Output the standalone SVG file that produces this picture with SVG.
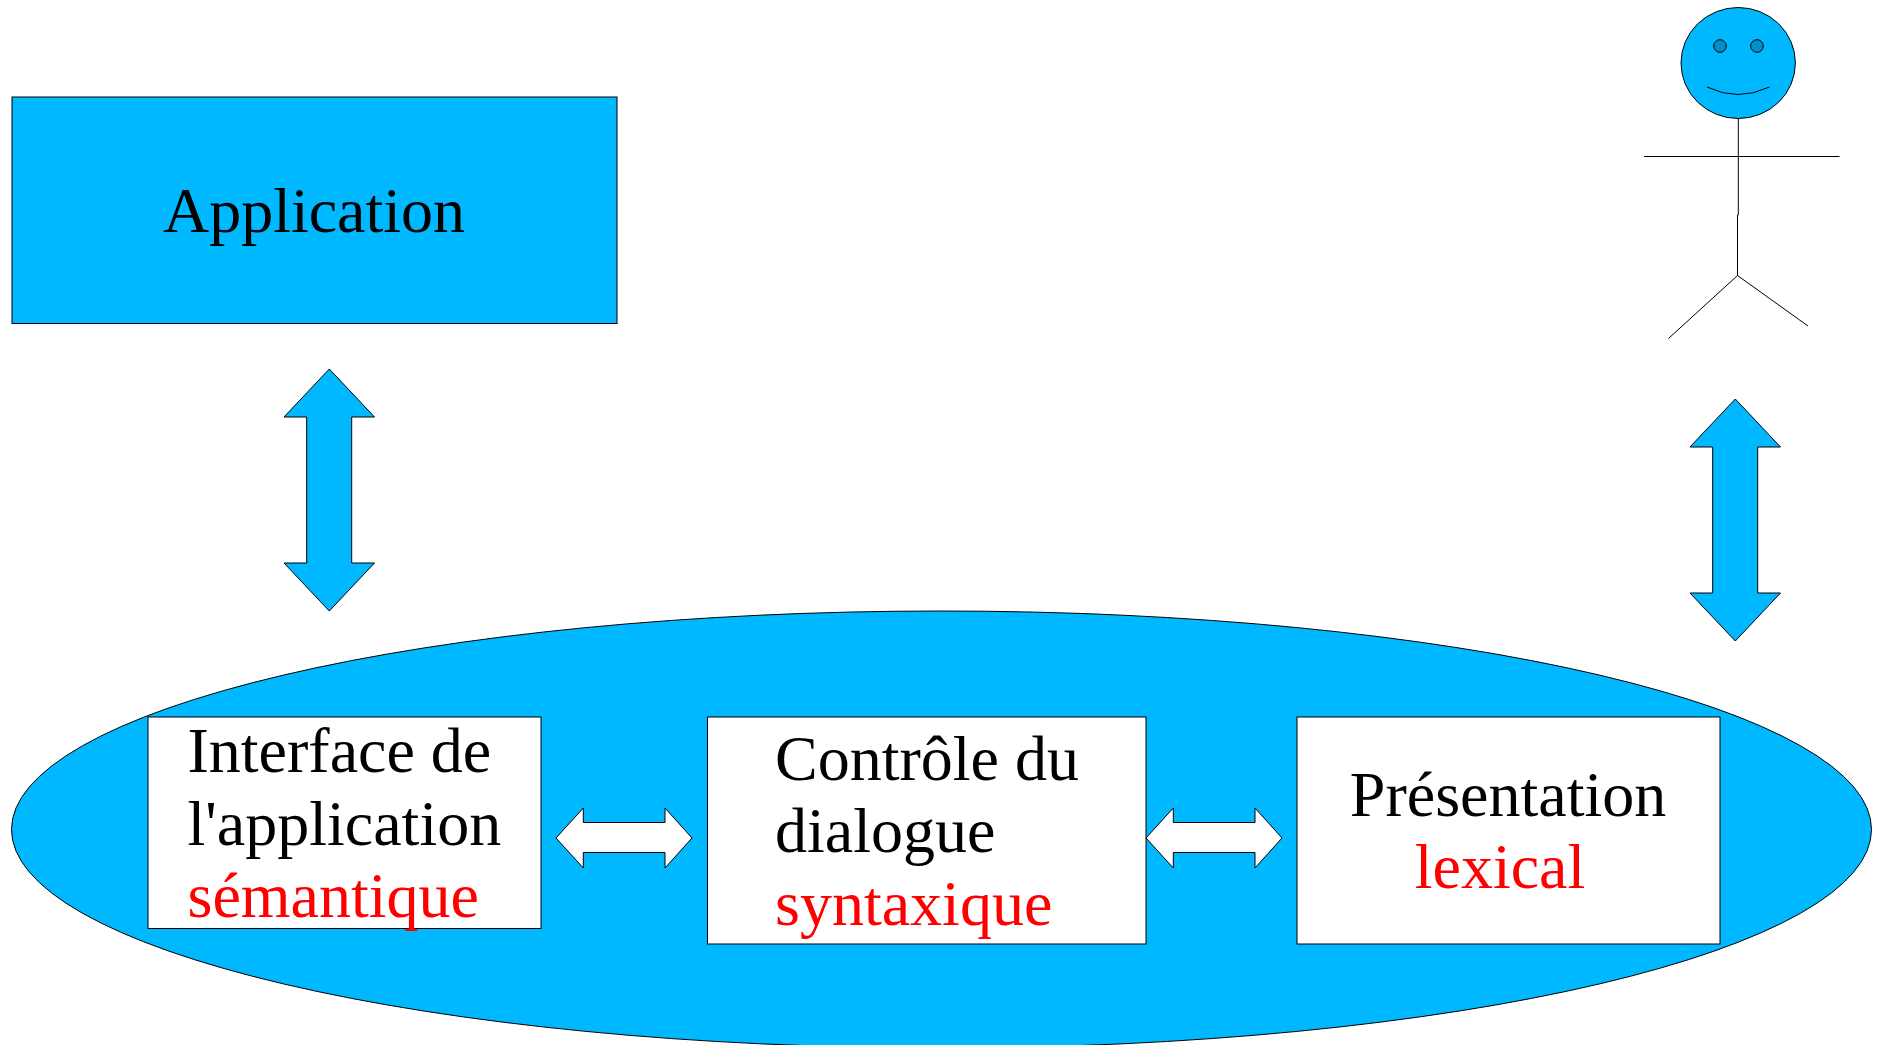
<svg xmlns="http://www.w3.org/2000/svg" width="1878" height="1045" viewBox="0 0 1878 1045">
<style>
.b{fill:#00b8ff;stroke:#000;stroke-width:1}
.w{fill:#fff;stroke:#000;stroke-width:1}
.l{fill:none;stroke:#000;stroke-width:1}
.e{fill:#0090c8;stroke:#000;stroke-width:1}
text{font-family:"Liberation Serif","Times New Roman",serif;font-size:64px;fill:#000}
.r{fill:#f00}
.m{text-anchor:middle}
</style>
<defs>
<polygon id="vArrow" points="329.3,369 374.5,417 351.7,417 351.7,563 374.5,563 329.3,611 284,563 306.7,563 306.7,417 284,417"/>
<polygon id="hArrow" points="556,838 583.3,808 583.3,822.5 665,822.5 665,808 692,838 665,868 665,852.5 583.3,852.5 583.3,868"/>
</defs>
<rect width="1878" height="1045" fill="#fff"/>
<g id="application"><rect class="b" x="12" y="97" width="605" height="226.500"/><text class="m" x="314" y="232">Application</text></g>
<g id="ellipse"><ellipse class="b" cx="941.500" cy="829.500" rx="930" ry="218.500"/></g>
<g id="interface"><rect class="w" x="148" y="717" width="393" height="211.500"/><text x="187.500" y="772">Interface de</text><text x="187.500" y="845">l'application</text><text class="r" x="187.500" y="917">sémantique</text></g>
<g id="controle"><rect class="w" x="707.500" y="717" width="438.500" height="227"/><text x="775" y="780">Contrôle du</text><text x="775" y="852">dialogue</text><text class="r" x="775" y="924.500">syntaxique</text></g>
<g id="presentation"><rect class="w" x="1297" y="717" width="423" height="227"/><text class="m" x="1508" y="816">Présentation</text><text class="r m" x="1500" y="888">lexical</text></g>
<g id="user"><ellipse class="b" cx="1738.200" cy="63" rx="57.200" ry="55.500"/><circle class="e" cx="1720" cy="46" r="6.300"/><circle class="e" cx="1757" cy="46" r="6.300"/><path class="l" d="M1707 87Q1738 102 1769.500 87"/><path class="l" d="M1644 156.500H1839.500M1738.300 118V215H1737.500V275.500L1668.500 338.500M1737.500 275.500L1808 326"/></g>
<g id="connectors"><use href="#vArrow" class="b"/><use href="#vArrow" class="b" x="1406" y="30"/><use href="#hArrow" class="w"/><use href="#hArrow" class="w" x="590"/></g>
</svg>
